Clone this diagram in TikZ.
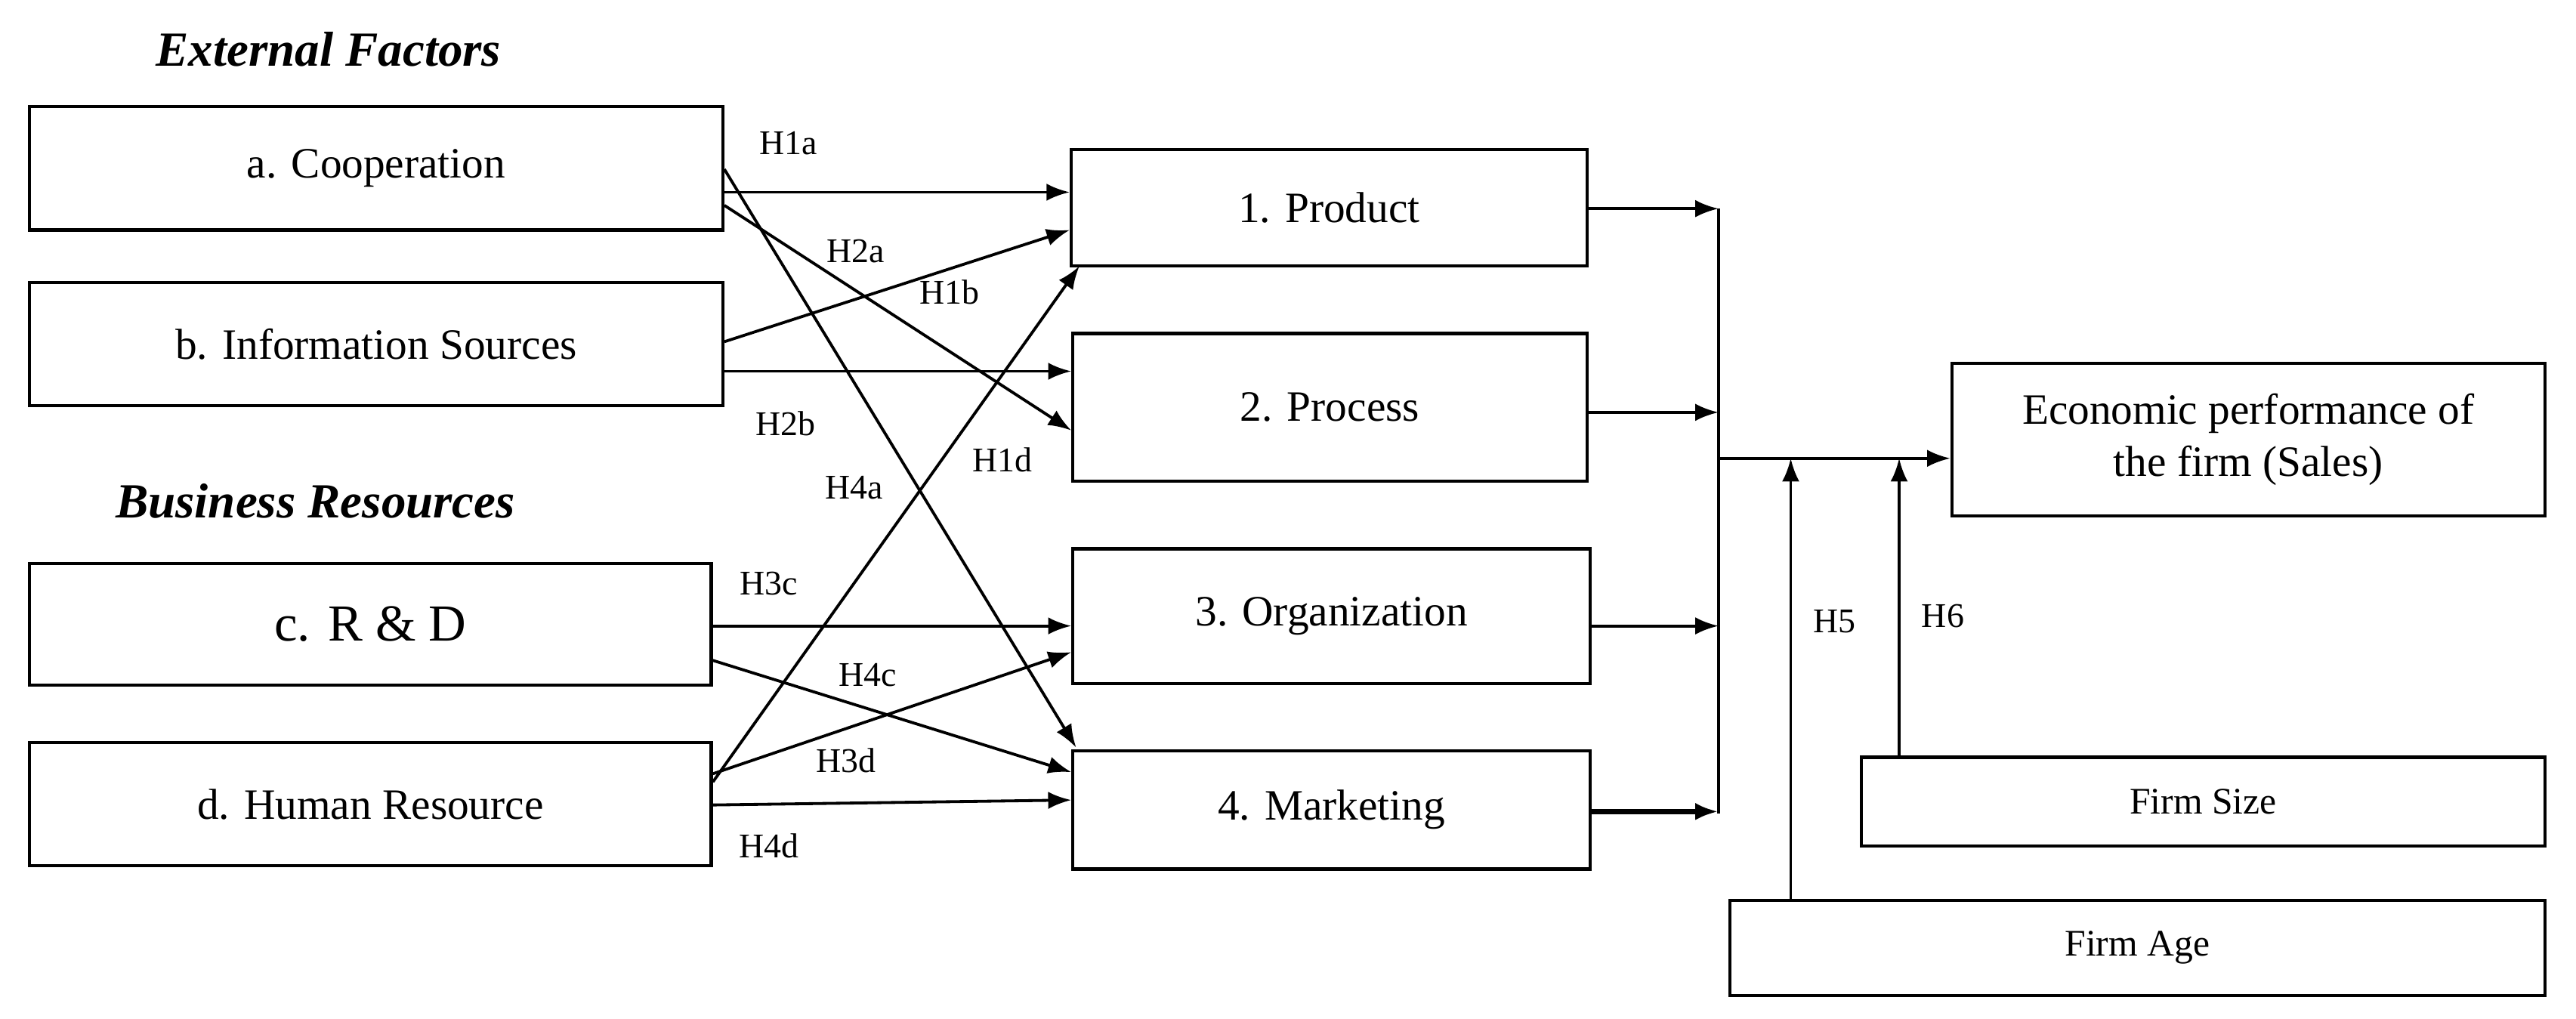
\documentclass[tikz,border=0pt]{standalone}
\usepackage{fontspec}
\setmainfont{Liberation Serif}
\usetikzlibrary{arrows.meta}
\begin{document}
\begin{tikzpicture}[x=0.02cm,y=-0.02cm,
 box/.style={draw,line width=1.1pt,inner sep=0pt,font=\fontsize{15}{18}\selectfont,align=center},
 lab/.style={font=\fontsize{12}{14}\selectfont},
 arr/.style={line width=1pt,-{Latex[length=8pt,width=6pt]}},
 ln/.style={line width=1pt},
 head/.style={font=\fontsize{17}{20}\selectfont\bfseries\itshape}]
\useasboundingbox (0,0) rectangle (1568,620);
\node[head] (ef) at (200,30) {External Factors};
\node[head] (br) at (192,305) {Business Resources};
\node[box,minimum width=8.44cm,minimum height=1.5cm] (a) at (229,102.5) {a. Cooperation};
\node[box,minimum width=8.44cm,minimum height=1.5cm] (b) at (229,209.5) {b. Information Sources};
\node[box,minimum width=8.3cm,minimum height=1.48cm,font=\fontsize{18}{20}\selectfont] (c) at (225.5,380) {c. R \& D};
\node[box,minimum width=8.3cm,minimum height=1.5cm] (d) at (225.5,489.5) {d. Human Resource};
\node[box,minimum width=6.28cm,minimum height=1.42cm] (p1) at (809,126.5) {1. Product};
\node[box,minimum width=6.26cm,minimum height=1.8cm] (p2) at (809.5,248) {2. Process};
\node[box,minimum width=6.3cm,minimum height=1.64cm] (p3) at (810.5,375) {3. Organization};
\node[box,minimum width=6.3cm,minimum height=1.44cm] (p4) at (810.5,493) {4. Marketing};
\node[box,minimum width=7.22cm,minimum height=1.86cm] (e) at (1368.5,267.5) {Economic performance of\\the firm (Sales)};
\node[box,minimum width=8.32cm,minimum height=1.08cm,font=\fontsize{13}{15}\selectfont] (fs) at (1341,488) {Firm Size};
\node[box,minimum width=9.92cm,minimum height=1.16cm,font=\fontsize{13}{15}\selectfont] (fa) at (1301,577) {Firm Age};
\coordinate (j1) at (1046,127);
\coordinate (j4) at (1046,495);
\coordinate (jm) at (1046,279);
\draw[ln] (j1) -- (j4);
\draw[arr] (p1.east |- 0,127) -- (j1);
\draw[arr] (p2.east |- 0,251) -- (1046,251);
\draw[arr] (p3.east |- 0,381) -- (1046,381);
\draw[line width=1.7pt,-{Latex[length=8pt,width=6pt]}] (p4.east |- 0,494) -- (1046,494);
\draw[arr] (jm) -- (e.west |- jm);
\draw[arr] (fa.north -| 1090,0) -- (1090,279) node[lab,pos=0.63,right=4pt] {H5};
\draw[arr] (fs.north -| 1156,0) -- (1156,279) node[lab,pos=0.47,right=4pt] {H6};
\draw[arr] (a.east |- 0,117) -- (p1.west |- 0,117);
\draw[arr] (a.east |- 0,125) -- (p2.west |- 0,262);
\draw[arr] (a.east |- 0,103) -- (655,455);
\draw[arr] (b.east |- 0,208) -- (p1.west |- 0,140);
\draw[arr] (b.east |- 0,226) -- (p2.west |- 0,226);
\draw[arr] (c.east |- 0,381) -- (p3.west |- 0,381);
\draw[arr] (c.east |- 0,402) -- (p4.west |- 0,470);
\draw[arr] (d.east |- 0,476) -- (657,162);
\draw[arr] (d.east |- 0,471) -- (p3.west |- 0,397);
\draw[arr] (d.east |- 0,490) -- (p4.west |- 0,487);
\node[lab] (l1) at (480,87) {H1a};
\node[lab] (l2) at (521,153) {H2a};
\node[lab] (l3) at (578,178) {H1b};
\node[lab] (l4) at (478,258) {H2b};
\node[lab] (l5) at (520,297) {H4a};
\node[lab] (l6) at (610,280) {H1d};
\node[lab] (l7) at (468,355) {H3c};
\node[lab] (l8) at (528,411) {H4c};
\node[lab] (l9) at (515,463) {H3d};
\node[lab] (l10) at (468,515) {H4d};
\end{tikzpicture}
\end{document}
